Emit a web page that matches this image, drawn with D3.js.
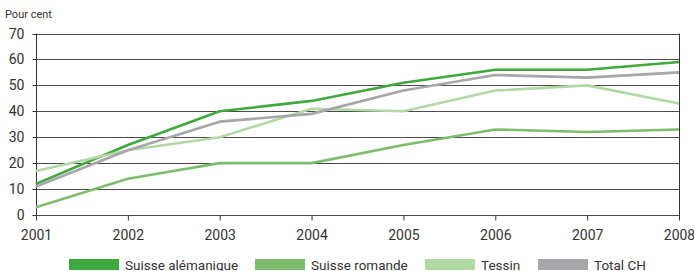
<!DOCTYPE html>
<html><head><meta charset="utf-8">
<script src="https://cdn.jsdelivr.net/npm/d3@7"></script>
<style>body{margin:0;background:#fff}svg{display:block;font-family:Roboto,"Open Sans",sans-serif}</style>
</head><body><svg id="c" width="694" height="271"></svg>
<script>
const years = [2001, 2002, 2003, 2004, 2005, 2006, 2007, 2008];
const alemanique = [12, 27, 40, 44, 51, 56, 56, 59];
const romande = [3, 14, 20, 20, 27, 33, 32, 33];
const tessin = [17, 25, 30, 41, 40, 48, 50, 43];
const totalCH = [11, 25, 36, 39, 48, 54, 53, 55];
const seriesNames = ["Suisse alémanique", "Suisse romande", "Tessin", "Total CH"];
const yTicks = [0, 10, 20, 30, 40, 50, 60, 70];
const colors = ["#3fa83e", "#7dbd6d", "#b2d8a4", "#a6a6ab"];

const series = [alemanique, romande, tessin, totalCH].map((v, i) => ({name: seriesNames[i], values: v, color: colors[i]}));

const svg = d3.select("#c");
const x = d3.scaleLinear().domain([2001, 2008]).range([36, 679]);
const y = d3.scaleLinear().domain([0, 70]).range([215, 33.5]);

// gridlines
svg.append("g").selectAll("line").data(yTicks).join("line")
  .attr("x1", 36).attr("x2", 679)
  .attr("y1", d => Math.round(y(d)) + 0.5).attr("y2", d => Math.round(y(d)) + 0.5)
  .attr("stroke", "#4a4a4a").attr("stroke-width", 1);

// y axis
const ya = svg.append("g").attr("transform", "translate(36.5,0)")
  .call(d3.axisLeft(y).tickValues(yTicks).tickSize(4).tickPadding(8).tickFormat(d3.format("d")));
ya.select(".domain").attr("stroke", "#333").attr("d", `M0,${y(70)}V${y(0)}`);
ya.selectAll(".tick line").attr("stroke", "#333");
ya.selectAll("text").attr("font-size", 14).attr("fill", "#333").attr("font-family", "Roboto");
ya.selectAll(".tick").attr("transform", d => `translate(0,${Math.round(y(d)) + 0.5})`);

// right border
svg.append("line").attr("x1", 679.5).attr("x2", 679.5).attr("y1", y(70)).attr("y2", 220)
  .attr("stroke", "#333");

// x axis
const xa = svg.append("g").attr("transform", `translate(0,${Math.round(y(0)) + 0.5})`)
  .call(d3.axisBottom(x).tickValues(years).tickSize(5).tickPadding(10).tickFormat(d3.format("d")));
xa.select(".domain").remove();
xa.selectAll(".tick line").attr("stroke", "#333");
xa.selectAll("text").attr("font-size", 14).attr("fill", "#333").attr("font-family", "Roboto");

// title
svg.append("text").attr("x", 5).attr("y", 18).attr("font-size", 11).attr("fill", "#333").text("Pour cent");

// lines
const line = d3.line().x((d, i) => x(years[i])).y(d => y(d));
svg.append("g").selectAll("path").data(series).join("path")
  .attr("d", d => line(d.values)).attr("fill", "none")
  .attr("stroke", d => d.color).attr("stroke-width", 2.6).attr("stroke-linejoin", "round");

// re-draw order: total under? keep as is
// legend
const legX = [69, 255, 425, 538];
const lg = svg.append("g").selectAll("g").data(series).join("g")
  .attr("transform", (d, i) => `translate(${legX[i]},259)`);
lg.append("rect").attr("width", 50).attr("height", 11).attr("fill", d => d.color);
lg.append("text").attr("x", 56).attr("y", 10.5).attr("font-size", 13.5).attr("fill", "#333").text(d => d.name);
</script></body></html>
